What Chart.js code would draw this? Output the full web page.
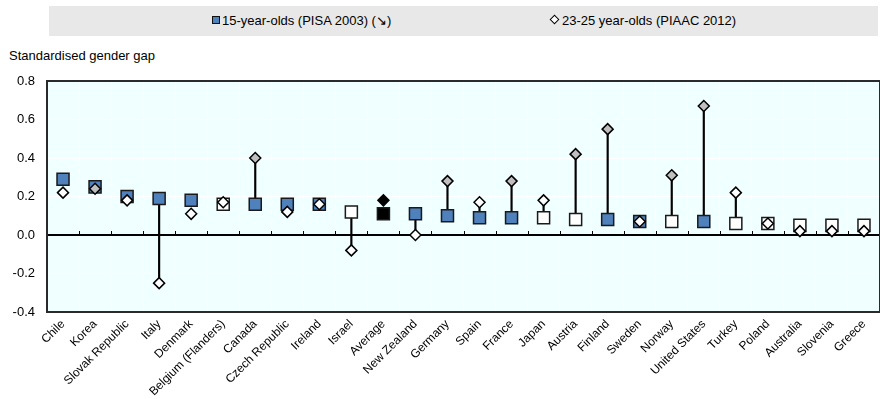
<!DOCTYPE html>
<html>
<head>
<meta charset="utf-8">
<script src="https://cdn.jsdelivr.net/npm/chart.js@4/dist/chart.umd.min.js"></script>
<style>
  body { margin: 0; overflow: hidden; background: #fff; font-family: "Liberation Sans Narrow", "Liberation Sans", Arial, sans-serif; }
  #wrap { position: absolute; left: 0; top: 0; width: 890px; height: 399px; }
  #legend { position: absolute; left: 49px; top: 6px; width: 829px; height: 30px; background: #e8e8e8; }
  .item { position: absolute; top: 7px; font-size: 13px; line-height: 16px; color: #000; white-space: nowrap; }
  .sq { display: inline-block; width: 6px; height: 6px; background: #4f81bd; border: 1.5px solid #111; margin-right: 2px; vertical-align: 1px; }
  .dm { display: inline-block; width: 5px; height: 5px; background: #fff; border: 1.5px solid #000; transform: rotate(45deg); margin: 0 4px 0 2px; vertical-align: 2px; }
  #ytitle { position: absolute; left: 9px; top: 48px; font-size: 13px; color: #000; }
  canvas { position: absolute; left: 0; top: 0; }
</style>
</head>
<body>
<div id="wrap">
  <div id="legend">
    <div class="item" style="left:163px"><span class="sq"></span>15-year-olds (PISA 2003) (↘)</div>
    <div class="item" style="left:500px"><span class="dm"></span>23-25 year-olds (PIAAC 2012)</div>
  </div>
  <div id="ytitle">Standardised gender gap</div>
  <canvas id="myChart" width="890" height="399"></canvas>
</div>
<script>
// Datos
const countries = ['Chile', 'Korea', 'Slovak Republic', 'Italy', 'Denmark', 'Belgium (Flanders)', 'Canada',
  'Czech Republic', 'Ireland', 'Israel', 'Average', 'New Zealand', 'Germany', 'Spain', 'France', 'Japan',
  'Austria', 'Finland', 'Sweden', 'Norway', 'United States', 'Turkey', 'Poland', 'Australia', 'Slovenia', 'Greece'];
const pisa2003 = [0.29, 0.25, 0.20, 0.19, 0.18, 0.16, 0.16, 0.16, 0.16, 0.12, 0.11, 0.11, 0.10, 0.09, 0.09, 0.09,
  0.08, 0.08, 0.07, 0.07, 0.07, 0.06, 0.06, 0.05, 0.05, 0.05];
const piaac2012 = [0.22, 0.24, 0.18, -0.25, 0.11, 0.17, 0.40, 0.12, 0.16, -0.08, 0.18, 0.00, 0.28, 0.17, 0.28, 0.18,
  0.42, 0.55, 0.07, 0.31, 0.67, 0.22, 0.06, 0.02, 0.02, 0.02];
// significativo (1) o no (0)
const pisaSig = [1, 1, 1, 1, 1, 0, 1, 1, 1, 0, 1, 1, 1, 1, 1, 0, 0, 1, 1, 0, 1, 0, 0, 0, 0, 0];
const piaacSig = [0, 1, 0, 0, 0, 0, 1, 0, 0, 0, 1, 0, 1, 0, 1, 0, 1, 1, 0, 1, 1, 0, 0, 0, 0, 0];
const changeSig = [0, 0, 0, 1, 0, 0, 1, 0, 0, 1, 0, 1, 1, 1, 1, 1, 1, 1, 0, 1, 1, 1, 0, 0, 0, 0];
const yTicks = [-0.4, -0.2, 0.0, 0.2, 0.4, 0.6, 0.8];

const FONT = '"Liberation Sans Narrow", "Liberation Sans", Arial, sans-serif';
const BLUE = '#4f81bd';
const GREY = '#bfbfbf';

const squareColors = countries.map((c, i) => c === 'Average' ? '#000' : (pisaSig[i] ? BLUE : '#fff'));
const diamondColors = countries.map((c, i) => c === 'Average' ? '#000' : (piaacSig[i] ? GREY : '#fff'));

// Fondo, marco y marcas sobre la linea del cero
const plotDecor = {
  id: 'plotDecor',
  beforeDraw(chart) {
    const { ctx, chartArea: a } = chart;
    ctx.save();
    ctx.fillStyle = '#f0ffff';
    ctx.fillRect(a.left, a.top, a.right - a.left, a.bottom - a.top);
    ctx.restore();
  },
  beforeDatasetsDraw(chart) {
    const { ctx, scales: { x, y } } = chart;
    const y0 = y.getPixelForValue(0);
    ctx.save();
    ctx.strokeStyle = '#000';
    ctx.lineWidth = 1;
    for (let i = 0; i < countries.length - 1; i++) {
      const px = Math.round((x.getPixelForValue(i) + x.getPixelForValue(i + 1)) / 2) + 0.5;
      ctx.beginPath();
      ctx.moveTo(px, y0);
      ctx.lineTo(px, y0 - 4);
      ctx.stroke();
    }
    ctx.restore();
  },
  afterDraw(chart) {
    const { ctx, chartArea: a } = chart;
    ctx.save();
    ctx.strokeStyle = '#2a2a2a';
    ctx.lineWidth = 2;
    ctx.strokeRect(a.left, a.top, a.right - a.left, a.bottom - a.top);
    ctx.restore();
  }
};

const data = {
  labels: countries,
  datasets: [{
    type: 'bar',
    label: 'change',
    data: pisa2003.map((v, i) => changeSig[i] ? [v, piaac2012[i]] : null),
    backgroundColor: '#000',
    barThickness: 1.5,
    order: 3
  }, {
    type: 'line',
    label: '15-year-olds (PISA 2003)',
    data: pisa2003,
    showLine: false,
    pointStyle: 'rect',
    pointRadius: 8.5,
    pointHoverRadius: 8.5,
    pointBorderWidth: 1.5,
    pointBorderColor: '#1a1a1a',
    pointBackgroundColor: squareColors,
    order: 2
  }, {
    type: 'line',
    label: '23-25 year-olds (PIAAC 2012)',
    data: piaac2012,
    showLine: false,
    pointStyle: 'rectRot',
    pointRadius: 5.5,
    pointHoverRadius: 5.5,
    pointBorderWidth: 1.5,
    pointBorderColor: '#000',
    pointBackgroundColor: diamondColors,
    order: 1
  }]
};

const config = {
  type: 'line',
  data: data,
  options: {
    responsive: false,
    animation: false,
    events: [],
    layout: { padding: { top: 81, right: 3, left: 0, bottom: 0 } },
    plugins: { legend: { display: false }, tooltip: { enabled: false } },
    scales: {
      x: {
        type: 'category',
        offset: true,
        grid: { color: '#ffffff', lineWidth: 1, offset: true, drawTicks: false },
        border: { display: false },
        ticks: { autoSkip: false, maxRotation: 45, minRotation: 45, padding: 5, color: '#000', font: { family: FONT, size: 12 } },
        afterFit(s) { s.height = 87; }
      },
      y: {
        min: yTicks[0],
        max: yTicks[yTicks.length - 1],
        afterBuildTicks(s) { s.ticks = yTicks.map(v => ({ value: v })); },
        grid: {
          drawTicks: false,
          color: c => c.tick && Math.abs(c.tick.value) < 1e-9 ? '#000' : '#ffffff',
          lineWidth: c => c.tick && Math.abs(c.tick.value) < 1e-9 ? 2 : 1
        },
        border: { display: false },
        ticks: {
          padding: 12,
          color: '#000',
          font: { family: FONT, size: 13 },
          callback: v => Math.abs(v) < 1e-9 ? '0.0' : v.toFixed(1)
        },
        afterFit(s) { s.width = 47; }
      }
    }
  },
  plugins: [plotDecor]
};

const myChart = new Chart(document.getElementById('myChart').getContext('2d'), config);
</script>
</body>
</html>
